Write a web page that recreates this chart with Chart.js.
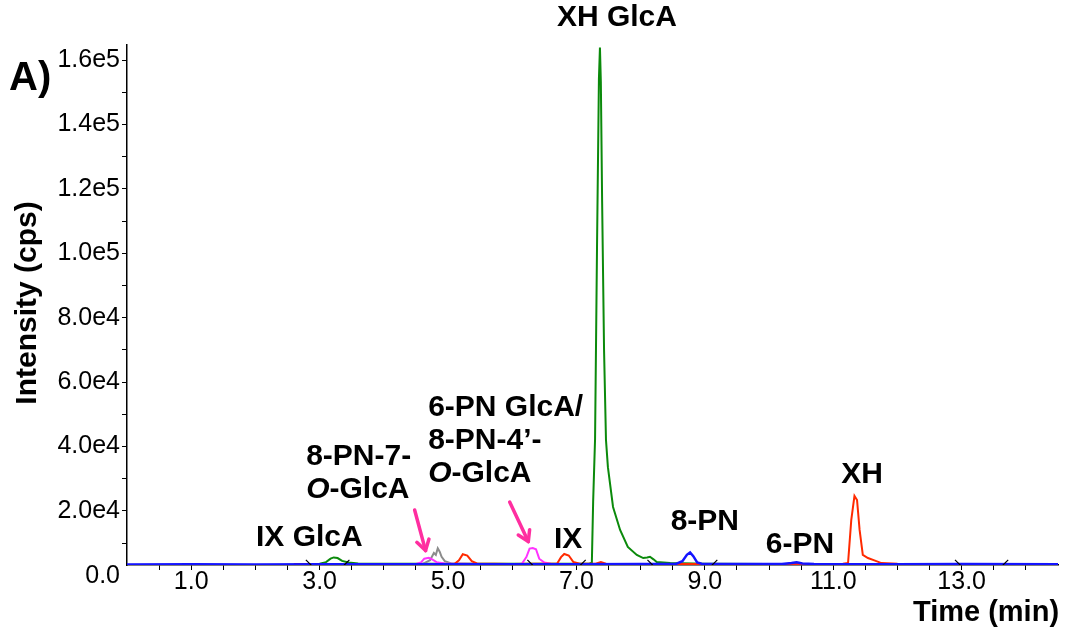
<!DOCTYPE html>
<html>
<head>
<meta charset="utf-8">
<script src="https://cdn.jsdelivr.net/npm/chart.js@4.4.1/dist/chart.umd.min.js"></script>
<style>
  html, body { margin: 0; padding: 0; background: #fff; }
  #c { display: block; }
</style>
</head>
<body>
<canvas id="c" width="1065" height="637"></canvas>
<script>
// ---------- DATA ----------
const greenTimes  = [2.6, 3.0, 3.1, 3.17, 3.22, 3.28, 3.35, 3.45, 3.6, 4.5, 6.0, 7.2, 7.24, 7.26, 7.29, 7.32, 7.35, 7.366, 7.38, 7.40, 7.43, 7.46, 7.49, 7.57, 7.68, 7.80, 7.94, 8.04, 8.1, 8.145, 8.2, 8.25, 8.46, 9.0, 10.0, 14.5];
const greenValues = [3520, 3620, 4110, 5190, 5580, 5390, 4500, 4010, 3720, 3620, 3620, 3620, 3920, 22830, 42430, 101230, 154150, 163900, 153170, 115930, 69870, 42040, 33610, 21260, 14110, 8820, 6370, 5390, 5580, 5780, 4990, 4160, 3850, 3620, 3570, 3520];

const redTimes  = [2.6, 4.0, 5.1, 5.17, 5.23, 5.3, 5.37, 5.45, 6.0, 6.7, 6.76, 6.81, 6.88, 6.95, 7.05, 7.3, 7.38, 7.46, 8.0, 10.0, 11.15, 11.23, 11.28, 11.33, 11.37, 11.41, 11.46, 11.54, 11.65, 11.75, 12.0, 14.5];
const redValues = [3520, 3520, 3570, 4700, 6560, 6170, 4410, 3720, 3570, 3720, 5680, 6660, 6170, 4210, 3620, 3620, 4110, 3620, 3570, 3570, 3620, 3820, 17150, 24690, 23420, 14110, 6370, 5390, 4600, 3820, 3620, 3570];

const magentaTimes  = [2.6, 4.5, 4.58, 4.63, 4.7, 4.76, 4.82, 4.95, 5.5, 6.15, 6.22, 6.27, 6.32, 6.37, 6.42, 6.5, 6.6, 7.5, 9.0, 14.5];
const magentaValues = [3520, 3520, 4010, 5190, 5480, 4900, 4110, 3720, 3520, 3620, 5680, 8330, 8520, 8130, 5190, 4010, 3620, 3520, 3570, 3520];

const grayTimes  = [2.6, 4.6, 4.72, 4.78, 4.81, 4.84, 4.87, 4.9, 4.95, 5.05, 5.5, 14.5];
const grayValues = [3520, 3520, 4700, 6950, 6370, 8420, 7350, 5780, 4410, 3720, 3520, 3520];

const blueTimes  = [0, 1.0, 2.0, 3.0, 4.0, 5.0, 6.0, 7.0, 8.0, 8.55, 8.65, 8.72, 8.77, 8.82, 8.88, 8.95, 9.2, 10.2, 10.35, 10.43, 10.52, 10.7, 12.0, 13.0, 14.5];
const blueValues = [3380, 3430, 3410, 3480, 3430, 3450, 3480, 3430, 3520, 3570, 4410, 6370, 7150, 5970, 4010, 3620, 3520, 3520, 3820, 4110, 3720, 3520, 3480, 3520, 3480];

// integration boundary marks ("\" at peak start, "/" at peak end)
const startMarkTimes = [2.83, 6.28, 8.15, 12.94];
const endMarkTimes   = [3.42, 7.1, 9.15, 13.68];
const markValue = 3950;

const xTickValues = [0.5, 1.0, 1.5, 2.0, 2.5, 3.0, 3.5, 4.0, 4.5, 5.0, 5.5, 6.0, 6.5, 7.0, 7.5, 8.0, 8.5, 9.0, 9.5, 10.0, 10.5, 11.0, 11.5, 12.0, 12.5, 13.0, 13.5, 14.0];
const xTickLabels = {1: '1.0', 3: '3.0', 5: '5.0', 7: '7.0', 9: '9.0', 11: '11.0', 13: '13.0'};
const yTickValues = [10000, 20000, 30000, 40000, 50000, 60000, 70000, 80000, 90000, 100000, 110000, 120000, 130000, 140000, 150000, 160000];
const yTickLabels = {20000: '2.0e4', 40000: '4.0e4', 60000: '6.0e4', 80000: '8.0e4', 100000: '1.0e5', 120000: '1.2e5', 140000: '1.4e5', 160000: '1.6e5'};
const yZeroLabel = '0.0';

// peak annotations: text lines (segments, "*" = italic), time (min), intensity (cps), align
const annotations = [
  { lines: [['XH GlcA']], t: 7.63, v: 173100, align: 'center' },
  { lines: [['IX GlcA']], t: 2.84, v: 11600, align: 'center' },
  { lines: [['8-PN-7-'], ['*O', '-GlcA']], t: 2.79, v: 36760, align: 'left' },
  { lines: [['6-PN GlcA/'], ['8-PN-4’-'], ['*O', '-GlcA']], t: 4.69, v: 51970, align: 'left' },
  { lines: [['IX']], t: 6.87, v: 10990, align: 'center' },
  { lines: [['8-PN']], t: 9.0, v: 16580, align: 'center' },
  { lines: [['6-PN']], t: 10.48, v: 9440, align: 'center' },
  { lines: [['XH']], t: 11.45, v: 31170, align: 'center' }
];
// arrows: tail (t, v) -> tip (t, v)
const arrows = [
  { t0: 4.48, v0: 20300, t1: 4.65, v1: 7700 },
  { t0: 5.96, v0: 22800, t1: 6.25, v1: 10500 }
];

// ---------- CHART ----------
const FONT = "'Liberation Sans', Arial, Helvetica, sans-serif";
const pts = (ts, vs) => ts.map((t, i) => ({ x: t, y: vs[i] }));
const marks = (ts) => ts.map(t => ({ x: t, y: markValue }));

const lineDs = (label, ts, vs, color, w) => ({
  label, data: pts(ts, vs), borderColor: color, backgroundColor: color,
  borderWidth: w, pointRadius: 0, tension: 0, fill: false
});

const datasets = [
  { label: 'start', data: marks(startMarkTimes), showLine: false, pointStyle: 'line', pointRadius: 4, pointRotation: 45, borderColor: '#000', borderWidth: 1.2 },
  { label: 'end', data: marks(endMarkTimes), showLine: false, pointStyle: 'line', pointRadius: 4, pointRotation: -45, borderColor: '#000', borderWidth: 1.2 },
  lineDs('blue', blueTimes, blueValues, '#1414ff', 2.5),
  lineDs('red', redTimes, redValues, '#ff2a00', 2),
  lineDs('magenta', magentaTimes, magentaValues, '#ff33ff', 2),
  lineDs('gray', grayTimes, grayValues, '#8c8c8c', 2),
  lineDs('green', greenTimes, greenValues, '#0b8a0b', 2)
];

const textPlugin = {
  id: 'texts',
  afterDraw(chart) {
    const c = chart.ctx, xs = chart.scales.x, ys = chart.scales.y;
    c.save();
    c.fillStyle = '#000';
    c.textBaseline = 'middle';
    // zero label of the intensity axis (sits just under the time axis line)
    c.font = "25px " + FONT;
    c.textAlign = 'right';
    c.fillText(yZeroLabel, 120, ys.getPixelForValue(0) + 1);
    // panel letter
    c.font = "bold 40px " + FONT;
    c.textAlign = 'left';
    c.fillText('A)', 9, 79);
    // axis titles
    c.textAlign = 'center';
    c.font = "bold 29px " + FONT;
    c.fillText('Time (min)', 986, 613);
    c.save();
    c.translate(28, 303);
    c.rotate(-Math.PI / 2);
    c.font = "bold 30px " + FONT;
    c.fillText('Intensity (cps)', 0, 0);
    c.restore();
    // peak labels
    const lh = 33;
    annotations.forEach(a => {
      const x = xs.getPixelForValue(a.t);
      const y0 = ys.getPixelForValue(a.v);
      a.lines.forEach((segs, li) => {
        const y = y0 + li * lh;
        const parts = segs.map(s => {
          const it = s.startsWith('*');
          const txt = it ? s.slice(1) : s;
          c.font = (it ? 'italic ' : '') + 'bold 30px ' + FONT;
          return { txt, font: c.font, w: c.measureText(txt).width };
        });
        const total = parts.reduce((s, p) => s + p.w, 0);
        let cx = a.align === 'center' ? x - total / 2 : x;
        c.textAlign = 'left';
        parts.forEach(p => { c.font = p.font; c.fillText(p.txt, cx, y); cx += p.w; });
      });
    });
    // arrows
    c.strokeStyle = '#ff2ea0';
    c.lineWidth = 3.5;
    c.lineCap = 'round';
    c.lineJoin = 'round';
    arrows.forEach(a => {
      const x0 = xs.getPixelForValue(a.t0), y0 = ys.getPixelForValue(a.v0);
      const x1 = xs.getPixelForValue(a.t1), y1 = ys.getPixelForValue(a.v1);
      const ang = Math.atan2(y1 - y0, x1 - x0);
      c.beginPath(); c.moveTo(x0, y0); c.lineTo(x1, y1); c.stroke();
      const hl = 12;
      c.beginPath();
      c.moveTo(x1 - hl * Math.cos(ang - 0.55), y1 - hl * Math.sin(ang - 0.55));
      c.lineTo(x1, y1);
      c.lineTo(x1 - hl * Math.cos(ang + 0.55), y1 - hl * Math.sin(ang + 0.55));
      c.stroke();
    });
    c.restore();
  }
};

new Chart(document.getElementById('c'), {
  type: 'line',
  data: { datasets },
  plugins: [textPlugin],
  options: {
    responsive: false,
    animation: false,
    devicePixelRatio: 1,
    layout: { padding: { left: 0, right: 7, top: 45, bottom: 0 } },
    plugins: { legend: { display: false }, tooltip: { enabled: false } },
    scales: {
      x: {
        type: 'linear', min: 0, max: 14.5,
        border: { color: '#000', width: 1.5 },
        grid: { drawOnChartArea: false, drawTicks: true, tickLength: 5, color: '#000' },
        afterBuildTicks: s => { s.ticks = xTickValues.map(v => ({ value: v })); },
        ticks: {
          autoSkip: false, maxRotation: 0, color: '#000', padding: -3,
          font: { family: FONT, size: 25 },
          callback: v => xTickLabels[v] || ''
        },
        afterFit: s => { s.height = 72; }
      },
      y: {
        type: 'linear', min: 3230, max: 164670,
        border: { color: '#000', width: 1.5 },
        grid: { drawOnChartArea: false, drawTicks: true, tickLength: 5, color: '#000' },
        afterBuildTicks: s => { s.ticks = yTickValues.map(v => ({ value: v })); },
        ticks: {
          autoSkip: false, color: '#000', padding: 2,
          font: { family: FONT, size: 25 },
          callback: v => (yTickLabels[v] !== undefined ? yTickLabels[v] : '')
        },
        afterFit: s => { s.width = 127; }
      }
    }
  }
});
</script>
</body>
</html>
